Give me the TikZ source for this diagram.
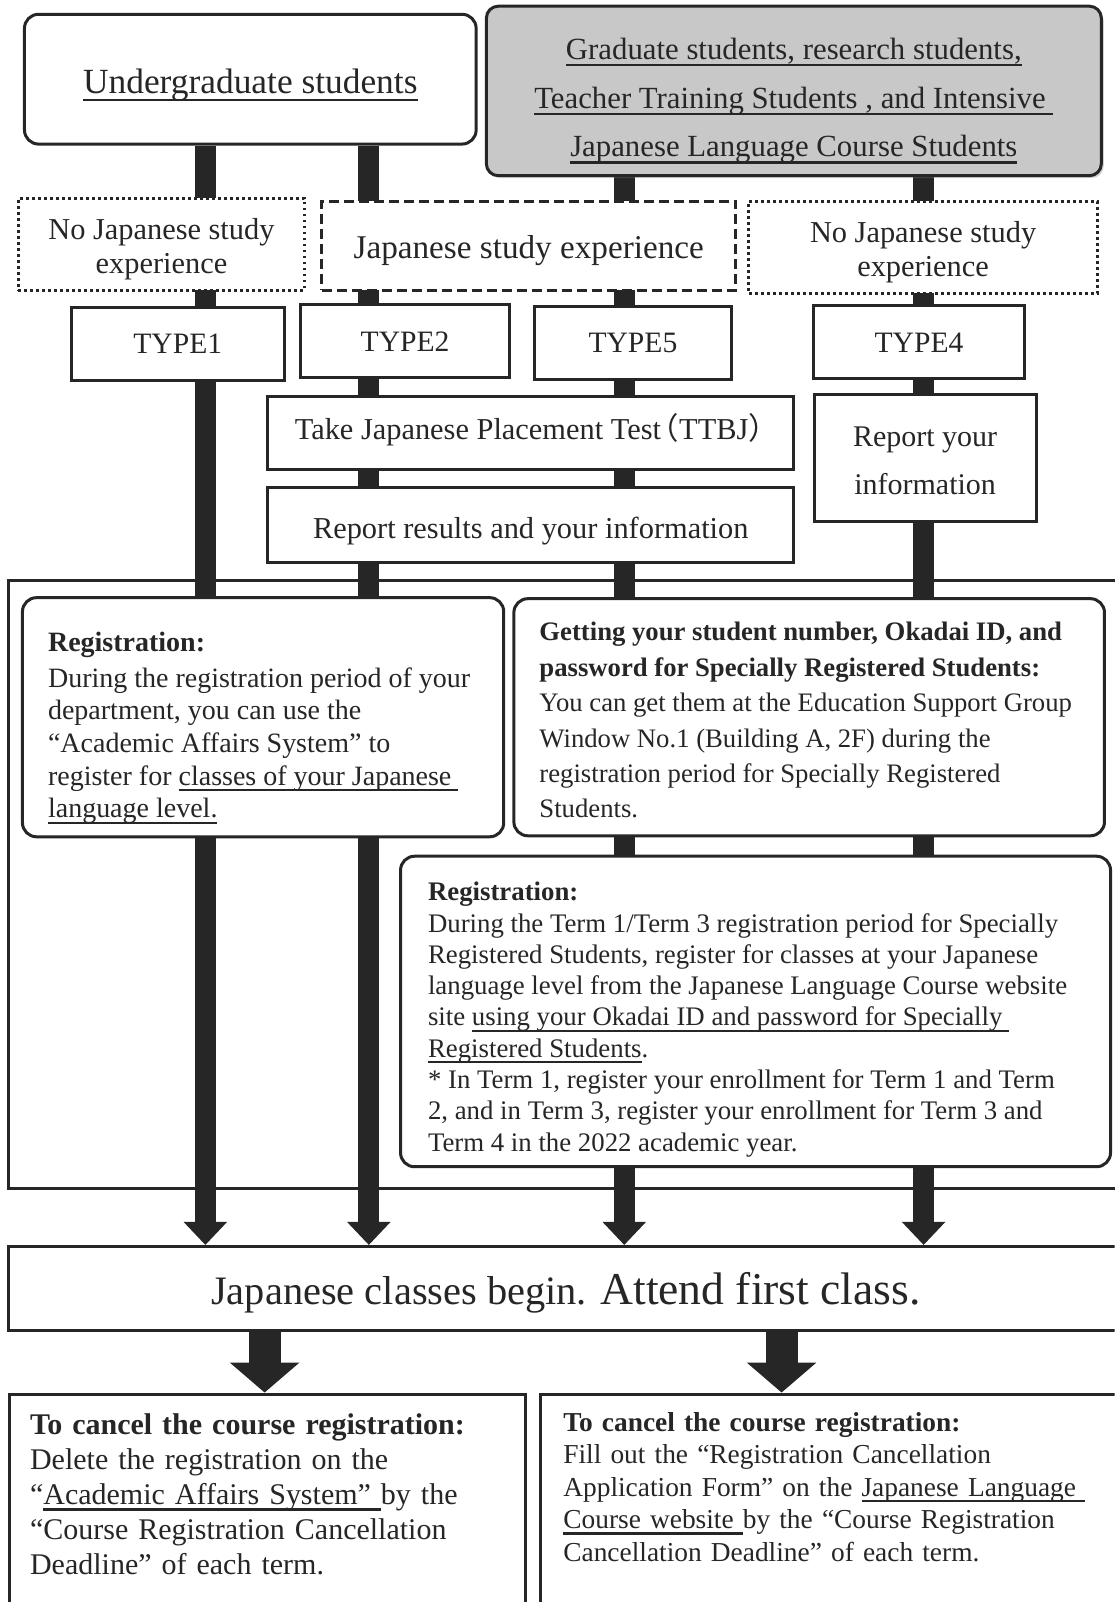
\documentclass[tikz,border=0pt]{standalone}
\usepackage{fontspec}
\setmainfont{Liberation Serif}
\newfontfamily\cjk{Noto Sans CJK JP}
\usetikzlibrary{arrows.meta,shadows,backgrounds}
\definecolor{ink}{HTML}{262626}
\definecolor{shade}{HTML}{C8C8C8}
\newcommand\uline[1]{\leavevmode\setbox0\hbox{#1}\rlap{\rule[-0.22em]{\wd0}{1.1pt}}\box0}
\newcommand\lift[1]{\rule{0pt}{#1}}

\begin{document}
\begin{tikzpicture}[x=0.511pt,y=-0.511pt,
 box/.style ={draw=ink,line width=1.5pt,fill=white,text=ink,inner sep=0pt,align=center},
 rbox/.style ={box,rounded corners=7pt},
 dotbox/.style ={box,line width=1.4pt,dash pattern=on 1.4pt off 1.6pt,minimum height=46pt,font=\fontsize{15.2}{17.4}\selectfont},
 dashbox/.style ={box,dash pattern=on 5pt off 2.5pt},
 typebox/.style ={box,minimum height=36.5pt,font=\fontsize{14.8}{17}\selectfont},
 stepbox/.style ={box,minimum width=263.2pt,font=\fontsize{15.2}{18}\selectfont},
 textbox/.style ={rbox,align=left},
 cancelbox/.style ={box,align=left,anchor=north west,text depth=140pt},
 bar/.style ={draw=ink,line width=10.5pt,-{Triangle[width=21pt,length=11.5pt]}},
 bigbar/.style ={draw=ink,line width=16pt,-{Triangle[width=34pt,length=15pt]}},
 frame/.style ={draw=ink,line width=1.5pt}
 ]
\useasboundingbox (0,0) rectangle (1091,1568);
\clip (0,0) rectangle (1091,1568);
%lanes of the bars
\coordinate (lane1) at (201,0);
\coordinate (lane2) at (361,0);
\coordinate (lane3) at (611,0);
\coordinate (lane4) at (904,0);
\coordinate (lane5) at (259,0);
\coordinate (lane6) at (765,0);
%draw student groups
\node[rbox,minimum width=225.9pt,minimum height=64.9pt,font=\fontsize{17.7}{21}\selectfont] (undergrad) at (245,77.5) {\lift{18.2pt}\uline{Undergraduate students}};
\node[rbox,fill=shade,rounded corners=6pt,drop shadow={shadow xshift=1.2pt,shadow yshift=-1.2pt,opacity=.35},minimum width=307.6pt,minimum height=84.8pt,font=\fontsize{15.4}{24.3}\selectfont] (grad) at (777,89) {\lift{20.6pt}\uline{Graduate students, research students,}\\\uline{Teacher Training Students , and Intensive\ }\\\uline{Japanese Language Course Students}};
%draw experience
\node[dotbox,minimum width=143.1pt] (noexpU) at (158,239) {\lift{15.5pt}No Japanese study\\experience};
\node[dashbox,minimum width=207pt,minimum height=44.5pt,font=\fontsize{16.6}{20}\selectfont] (exp) at (517.5,240.5) {\lift{16.5pt}Japanese study experience};
\node[dotbox,minimum width=174.3pt] (noexpG) at (903.5,242) {\lift{15.5pt}No Japanese study\\experience};
%draw types
\node[typebox,minimum width=106.3pt] (type1) at (174,336.5) {TYPE1};
\node[typebox,minimum width=104.8pt] (type2) at (396.5,334) {TYPE2};
\node[typebox,minimum width=98.6pt] (type5) at (619.5,335.5) {TYPE5};
\node[typebox,minimum width=105.8pt] (type4) at (899.5,335) {TYPE4};
%draw steps
\node[stepbox,minimum height=36.8pt] (ttbj) at (519.5,424) {Take Japanese Placement Test\kern-0.4em{\cjk （}TTBJ{\cjk ）}\kern-0.4em\rule[-6.5pt]{0pt}{0pt}};
\node[stepbox,minimum height=37.8pt] (report) at (519.5,514) {\lift{16.5pt}Report results and your information};
\node[box,minimum width=110.9pt,minimum height=63.4pt,font=\fontsize{15}{24}\selectfont] (info) at (905.5,448) {\lift{13.4pt}Report your\\information};
%draw registration
\node[textbox,minimum width=240.7pt,minimum height=119.6pt,font=\fontsize{14}{16.3}\selectfont] (regU) at (257.5,702) {\lift{20.5pt}\makebox[215.1pt][l]{\textbf{Registration:}}\\[1.5pt]
During the registration period of your\\
department, you can use the\\
“Academic Affairs System” to\\
register for \uline{classes of your Japanese\ }\\
\uline{language level.}};
\node[textbox,minimum width=295.4pt,minimum height=118.6pt,font=\fontsize{13.35}{17.7}\selectfont] (okadai) at (792,702) {\lift{12.4pt}\makebox[269.8pt][l]{\textbf{Getting your student number, Okadai ID, and}}\\
\textbf{password for Specially Registered Students:}\\
You can get them at the Education Support Group\\
Window No.1 (Building A, 2F) during the\\
registration period for Specially Registered\\
Students.};
\node[textbox,minimum width=355.1pt,minimum height=155.3pt,font=\fontsize{13.4}{15.65}\selectfont] (regG) at (739.5,990) {\lift{17.3pt}\makebox[327.6pt][l]{\textbf{Registration:}}\\
During the Term 1/Term 3 registration period for Specially\\
Registered Students, register for classes at your Japanese\\
language level from the Japanese Language Course website\\
site \uline{using your Okadai ID and password for Specially\ }\\
\uline{Registered Students}.\\{*} In Term 1, register your enrollment for Term 1 and Term\\
2, and in Term 3, register your enrollment for Term 3 and\\
Term 4 in the 2022 academic year.};
%draw classes
\node[box,minimum width=558pt,minimum height=41.9pt,font=\fontsize{20.2}{24}\selectfont] (begin) at (554,1261) {\lift{20.7pt}Japanese classes begin. {\fontsize{22.8}{26}\selectfont Attend first class.}};
%draw cancellation
\node[cancelbox,inner xsep=10.2pt,inner ysep=9.6pt,text width=237.6pt,font=\fontsize{15}{17.5}\selectfont] (cancelU) at (8,1363) {\textbf{To cancel the course registration:}\\
Delete the registration on the\\
“\uline{Academic Affairs System”\ }by the\\
“Course Registration Cancellation\\
Deadline” of each term.};
\node[cancelbox,inner xsep=11.2pt,inner ysep=9.2pt,text width=270pt,font=\fontsize{13.7}{16.2}\selectfont] (cancelG) at (528,1363) {\textbf{To cancel the course registration:}\\
Fill out the “Registration Cancellation\\
Application Form” on the \uline{Japanese Language\ }\\
\uline{Course website }by the “Course Registration\\
Cancellation Deadline” of each term.};
\begin{scope}[on background layer]
%draw frame
\draw[frame] (1091,568) -| (8,1163) -- (1091,1163);
%draw bars
\draw[bar] (undergrad.south -| lane1) -- (begin.north -| lane1);
\draw[bar] (undergrad.south -| lane2) -- (begin.north -| lane2);
\draw[bar] (grad.south -| lane3) -- (begin.north -| lane3);
\draw[bar] (grad.south -| lane4) -- (begin.north -| lane4);
\draw[bigbar] (begin.south -| lane5) -- (cancelU.north -| lane5);
\draw[bigbar] (begin.south -| lane6) -- (cancelG.north -| lane6);
\end{scope}
\end{tikzpicture}
\end{document}
